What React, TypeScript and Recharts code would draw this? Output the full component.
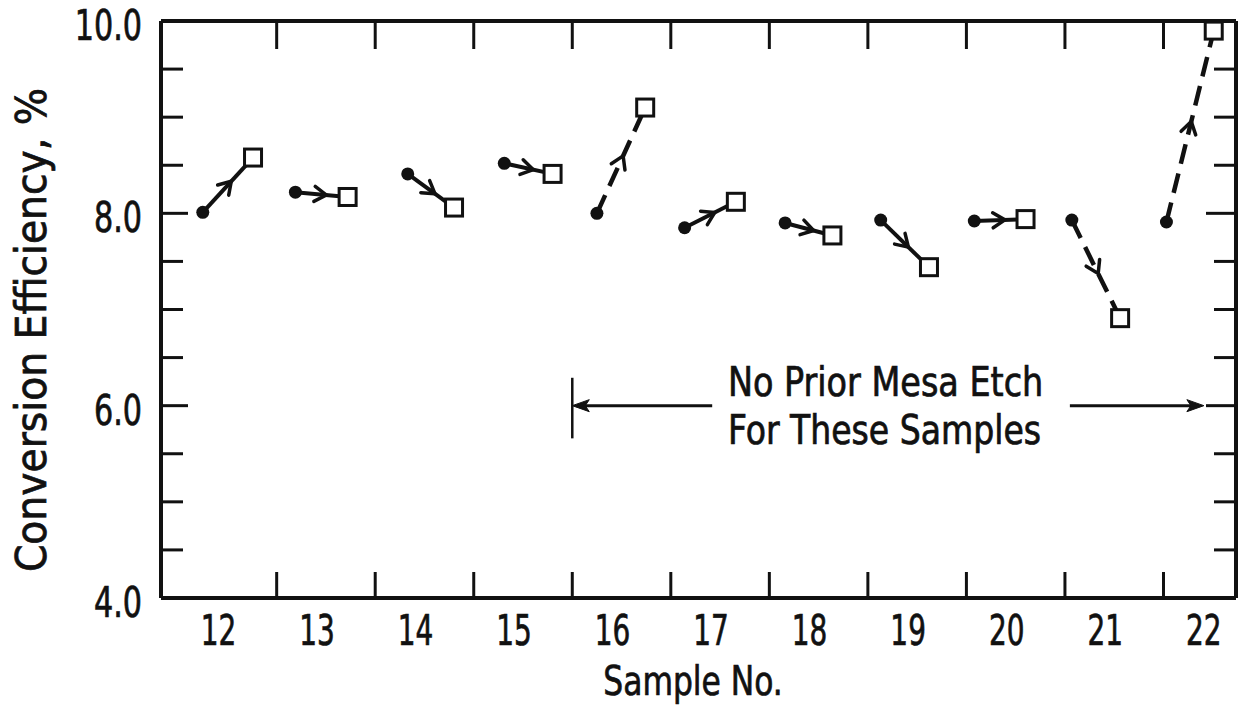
import React from 'react';
import {
  ComposedChart,
  Line,
  XAxis,
  YAxis,
  ReferenceLine,
  ReferenceDot,
} from 'recharts';

// Sample numbers and the efficiency before (filled dot) and after (open square) treatment
const samples = [12, 13, 14, 15, 16, 17, 18, 19, 20, 21, 22];
const beforePos = [11.75, 12.69, 13.83, 14.81, 15.75, 16.64, 17.66, 18.63, 19.58, 20.57, 21.53];
const afterPos = [12.26, 13.22, 14.3, 15.3, 16.24, 17.16, 18.14, 19.12, 20.1, 21.06, 22.01];
const beforeEff = [8.01, 8.22, 8.41, 8.52, 8.0, 7.85, 7.9, 7.93, 7.92, 7.93, 7.91];
const afterEff = [8.58, 8.17, 8.06, 8.41, 9.1, 8.12, 7.77, 7.44, 7.94, 6.91, 9.9];
const dashedSamples = [16, 21, 22];

// Axis ticks
const xLabelTicks = [12, 13, 14, 15, 16, 17, 18, 19, 20, 21, 22];
const xBoundaryTicks = [12.5, 13.5, 14.5, 15.5, 16.5, 17.5, 18.5, 19.5, 20.5, 21.5];
const yTicks = [4, 4.5, 5, 5.5, 6, 6.5, 7, 7.5, 8, 8.5, 9, 9.5, 10];
const yLabelTicks = [4, 6, 8, 10];
const yMajorTicks = [6, 8];

// Bracket marking the samples without a prior mesa etch
const noEtchStart = 15.5;
const noEtchEnd = 21.91;
const noEtchLevel = 6.0;
const noEtchLeftArrowEnd = 16.92;
const noEtchRightArrowStart = 20.55;
const noEtchBarTop = 6.29;
const noEtchBarBottom = 5.66;
const noEtchTextX = 17.08;
const noEtchLines = ['No Prior Mesa Etch', 'For These Samples'];

const X_DOMAIN: [number, number] = [11.326, 22.236];
const Y_DOMAIN: [number, number] = [4, 10];

const FONT = "'DejaVu Sans Condensed', 'DejaVu Sans', sans-serif";
const INK = '#111';

const seriesData = samples.map((s, i) => ({
  sample: s,
  dashed: dashedSamples.includes(s),
  points: [
    { x: beforePos[i], eff: beforeEff[i] },
    { x: afterPos[i], eff: afterEff[i] },
  ],
}));

// Text squeezed horizontally to mimic the condensed lettering
function NarrowText(props: {
  x: number;
  y: number;
  sx: number;
  size: number;
  anchor?: 'start' | 'middle' | 'end';
  rotate?: number;
  children: React.ReactNode;
}) {
  const { x, y, sx, size, anchor = 'start', rotate = 0, children } = props;
  return (
    <text
      transform={`translate(${x},${y}) rotate(${rotate}) scale(${sx},1)`}
      x={0}
      y={0}
      textAnchor={anchor}
      fontFamily={FONT}
      fontSize={size}
      fill={INK}
      stroke={INK}
      strokeWidth={0.7}
    >
      {children}
    </text>
  );
}

function renderPairDot(props: any) {
  const { cx, cy, index, points } = props;
  if (cx == null || cy == null) return <g key={`e-${index}`} />;
  if (index === 0) {
    return <circle key={`c-${index}`} cx={cx} cy={cy} r={6.5} fill={INK} stroke="none" />;
  }
  const size = 17;
  let chevron = null;
  if (points && points.length > 1) {
    const p0 = points[0];
    const p1 = points[1];
    const dx = p1.x - p0.x;
    const dy = p1.y - p0.y;
    const len = Math.hypot(dx, dy) || 1;
    const ux = dx / len;
    const uy = dy / len;
    const nx = -uy;
    const ny = ux;
    const mx = (p0.x + p1.x) / 2 + ux * 5;
    const my = (p0.y + p1.y) / 2 + uy * 5;
    const back = 12;
    const spread = 7.5;
    const a1x = mx - ux * back + nx * spread;
    const a1y = my - uy * back + ny * spread;
    const a2x = mx - ux * back - nx * spread;
    const a2y = my - uy * back - ny * spread;
    chevron = (
      <polyline
        points={`${a1x},${a1y} ${mx},${my} ${a2x},${a2y}`}
        fill="none"
        stroke={INK}
        strokeWidth={3.5}
        strokeLinecap="round"
        strokeLinejoin="round"
      />
    );
  }
  return (
    <g key={`s-${index}`}>
      {chevron}
      <rect
        x={cx - size / 2}
        y={cy - size / 2}
        width={size}
        height={size}
        fill="#fff"
        stroke={INK}
        strokeWidth={3}
      />
    </g>
  );
}

function BottomTick(props: any) {
  const { x, y, payload } = props;
  const v = payload.value;
  if (Number.isInteger(v)) {
    return (
      <NarrowText x={x - 9} y={y + 47} sx={0.74} size={42} anchor="middle">
        {v}
      </NarrowText>
    );
  }
  return <line x1={x} y1={y} x2={x} y2={y - 26} stroke={INK} strokeWidth={3} />;
}

function TopTick(props: any) {
  const { x, y } = props;
  return <line x1={x} y1={y} x2={x} y2={y + 28} stroke={INK} strokeWidth={3} />;
}

function LeftTick(props: any) {
  const { x, y, payload } = props;
  const v = payload.value;
  const len = yMajorTicks.includes(v) ? 27 : 22;
  return (
    <g>
      {v > 4 && v < 10 && <line x1={x} y1={y} x2={x + len} y2={y} stroke={INK} strokeWidth={3} />}
      {yLabelTicks.includes(v) && (
        <NarrowText x={x - 19} y={y + 19} sx={0.8} size={42} anchor="end">
          {v.toFixed(1)}
        </NarrowText>
      )}
    </g>
  );
}

function RightTick(props: any) {
  const { x, y, payload } = props;
  const v = payload.value;
  if (v <= 4 || v >= 10) return <g />;
  const len = yMajorTicks.includes(v) ? 30 : 22;
  return <line x1={x} y1={y} x2={x - len} y2={y} stroke={INK} strokeWidth={3} />;
}

function arrowHead(tipX: number, tipY: number, dir: number) {
  const l = 17;
  const w = 6;
  return (
    <polygon
      points={`${tipX},${tipY} ${tipX - dir * l},${tipY - w} ${tipX - dir * (l - 4)},${tipY} ${tipX - dir * l},${tipY + w}`}
      fill={INK}
      stroke={INK}
      strokeWidth={1}
    />
  );
}

function LeftArrowShape(props: any) {
  const { x1, y1, x2, y2 } = props;
  const tipX = Math.min(x1, x2);
  return (
    <g>
      <line x1={tipX + 8} y1={y1} x2={Math.max(x1, x2)} y2={y2} stroke={INK} strokeWidth={3} />
      {arrowHead(tipX, y1, -1)}
    </g>
  );
}

function RightArrowShape(props: any) {
  const { x1, y1, x2, y2 } = props;
  const tipX = Math.max(x1, x2);
  return (
    <g>
      <line x1={Math.min(x1, x2)} y1={y1} x2={tipX - 8} y2={y2} stroke={INK} strokeWidth={3} />
      {arrowHead(tipX, y1, 1)}
    </g>
  );
}

function BarShape(props: any) {
  const { x1, y1, x2, y2 } = props;
  return <line x1={x1} y1={y1} x2={x2} y2={y2} stroke={INK} strokeWidth={2.5} />;
}

function NoteShape(props: any) {
  const { cx, cy } = props;
  return (
    <g>
      <NarrowText x={cx} y={cy - 10} sx={0.93} size={40}>
        {noEtchLines[0]}
      </NarrowText>
      <NarrowText x={cx} y={cy + 38} sx={0.92} size={40}>
        {noEtchLines[1]}
      </NarrowText>
    </g>
  );
}

export default function App() {
  return (
    <div style={{ position: 'absolute', left: 0, top: 0, width: 1243, height: 708, background: '#fff' }}>
      <ComposedChart width={1243} height={708} margin={{ top: 0, right: 0, bottom: 0, left: 0 }}>
        <XAxis
          xAxisId="b"
          type="number"
          dataKey="x"
          domain={X_DOMAIN}
          allowDataOverflow
          ticks={[...xLabelTicks, ...xBoundaryTicks].sort((a, b) => a - b)}
          interval={0}
          tickSize={0}
          tickMargin={0}
          tickLine={false}
          tick={(p: any) => <BottomTick {...p} />}
          height={110}
          axisLine={{ stroke: INK, strokeWidth: 4 }}
        />
        <XAxis
          xAxisId="t"
          orientation="top"
          type="number"
          dataKey="x"
          domain={X_DOMAIN}
          allowDataOverflow
          ticks={xBoundaryTicks}
          interval={0}
          tickSize={0}
          tickMargin={0}
          tickLine={false}
          tick={(p: any) => <TopTick {...p} />}
          height={21}
          axisLine={{ stroke: INK, strokeWidth: 4 }}
        />
        <YAxis
          yAxisId="l"
          type="number"
          domain={Y_DOMAIN}
          allowDataOverflow
          ticks={yTicks}
          interval={0}
          tickSize={0}
          tickMargin={0}
          tickLine={false}
          tick={(p: any) => <LeftTick {...p} />}
          width={161}
          axisLine={{ stroke: INK, strokeWidth: 4 }}
          label={{
            content: () => (
              <NarrowText x={46} y={330} sx={1.04} size={42} anchor="middle" rotate={-90}>
                Conversion Efficiency, %
              </NarrowText>
            ),
          }}
        />
        <YAxis
          yAxisId="r"
          orientation="right"
          type="number"
          domain={Y_DOMAIN}
          allowDataOverflow
          ticks={yTicks}
          interval={0}
          tickSize={0}
          tickMargin={0}
          tickLine={false}
          tick={(p: any) => <RightTick {...p} />}
          width={7}
          axisLine={{ stroke: INK, strokeWidth: 4 }}
        />

        {seriesData.map((s) => (
          <Line
            key={s.sample}
            xAxisId="b"
            yAxisId="l"
            data={s.points}
            dataKey="eff"
            type="linear"
            stroke={INK}
            strokeWidth={s.dashed ? 4.5 : 4}
            strokeDasharray={s.dashed ? '20 10' : undefined}
            dot={renderPairDot}
            activeDot={false}
            isAnimationActive={false}
            legendType="none"
          />
        ))}

        <ReferenceLine
          xAxisId="b"
          yAxisId="l"
          segment={[
            { x: noEtchStart, y: noEtchBarTop },
            { x: noEtchStart, y: noEtchBarBottom },
          ]}
          shape={(p: any) => <BarShape {...p} />}
        />
        <ReferenceLine
          xAxisId="b"
          yAxisId="l"
          segment={[
            { x: noEtchStart, y: noEtchLevel },
            { x: noEtchLeftArrowEnd, y: noEtchLevel },
          ]}
          shape={(p: any) => <LeftArrowShape {...p} />}
        />
        <ReferenceLine
          xAxisId="b"
          yAxisId="l"
          segment={[
            { x: noEtchRightArrowStart, y: noEtchLevel },
            { x: noEtchEnd, y: noEtchLevel },
          ]}
          shape={(p: any) => <RightArrowShape {...p} />}
        />
        <ReferenceDot
          xAxisId="b"
          yAxisId="l"
          x={noEtchTextX}
          y={noEtchLevel}
          r={0}
          shape={(p: any) => <NoteShape {...p} />}
        />

        <NarrowText x={693} y={695} sx={0.85} size={41} anchor="middle">
          Sample No.
        </NarrowText>
      </ComposedChart>
    </div>
  );
}
